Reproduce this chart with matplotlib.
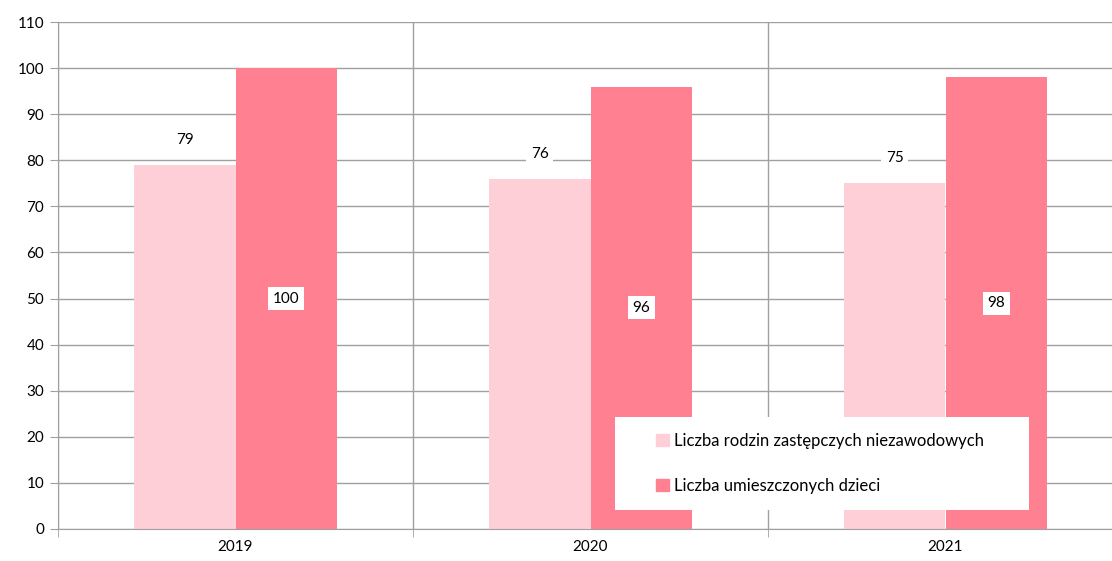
import matplotlib.pyplot as plt
from matplotlib.patches import Patch, Rectangle
import numpy as np

years = ["2019", "2020", "2021"]
families = [79, 76, 75]
children = [100, 96, 98]
series_names = ["Liczba rodzin zastępczych niezawodowych", "Liczba umieszczonych dzieci"]

LIGHT = "#FFCFD8"
DARK = "#FF8091"
GRID = "#A0A0A0"

plt.rcParams["font.family"] = ["Lato", "DejaVu Sans"]

fig = plt.figure(figsize=(11.12, 5.61), dpi=100)
# axes spans a bit past the right edge, like the original screenshot
ax = fig.add_axes([58 / 1112, 1 - 529 / 561, (1123 - 58) / 1112, 507 / 561])

x = np.arange(len(years))
w = 0.285
ax.bar(x - w / 2, families, w, color=LIGHT, zorder=2)
ax.bar(x + w / 2, children, w, color=DARK, zorder=2)

box = dict(boxstyle="square,pad=0.3", fc="white", ec="none")
for xi, v in zip(x, families):
    ax.annotate(str(v), (xi - w / 2, v), xytext=(0, 18), textcoords="offset points",
                ha="center", va="center", fontsize=11, bbox=box, zorder=4)
for xi, v in zip(x, children):
    ax.text(xi + w / 2, v / 2, str(v), ha="center", va="center", fontsize=11,
            bbox=box, zorder=4)

ax.set_xlim(-0.5, 2.5)
ax.set_ylim(0, 110)
ax.set_yticks(range(0, 111, 10))
ax.set_xticks(x)
ax.set_xticklabels(years)
ax.set_xticks([-0.5, 0.5, 1.5, 2.5], minor=True)

ax.grid(axis="y", color=GRID, lw=1, zorder=0)
ax.grid(axis="x", which="minor", color=GRID, lw=1, zorder=0)
ax.tick_params(axis="x", which="major", length=0, labelsize=11, pad=8)
ax.tick_params(axis="x", which="minor", length=6, color=GRID, direction="out")
ax.tick_params(axis="y", length=6, color=GRID, labelsize=11, pad=4)

for s in ["top", "right"]:
    ax.spines[s].set_visible(False)
for s in ["left", "bottom"]:
    ax.spines[s].set_color(GRID)

# legend box
fig.add_artist(Rectangle((615 / 1112, 1 - 510 / 561), (1029 - 615) / 1112, 93 / 561,
                         transform=fig.transFigure, fc="white", ec="none", zorder=5))
handles = [Patch(color=LIGHT), Patch(color=DARK)]
leg = fig.legend(handles, series_names, loc="center left",
                 bbox_to_anchor=(641 / 1112, 1 - 463.5 / 561), frameon=False,
                 fontsize=12, handlelength=0.75, handleheight=0.75, handletextpad=0.35,
                 labelspacing=1.75)
leg.set_zorder(6)

fig.savefig("out.png", dpi=100)
